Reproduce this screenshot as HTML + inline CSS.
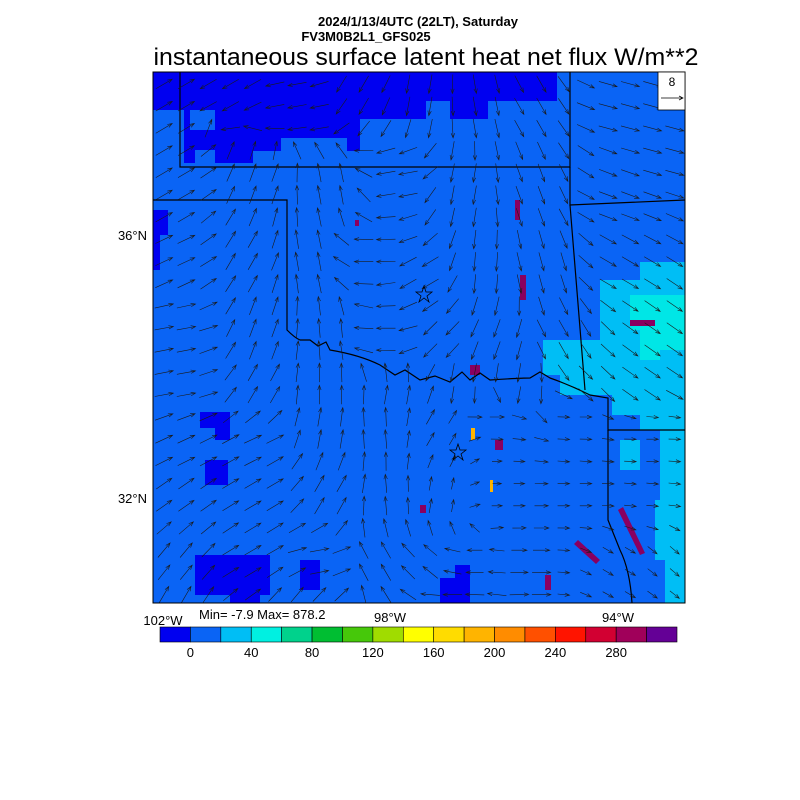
<!DOCTYPE html>
<html><head><meta charset="utf-8"><style>
body{margin:0;background:#fff;width:800px;height:800px;overflow:hidden}
svg{display:block}
text{font-family:"Liberation Sans",sans-serif}
</style></head><body>
<svg id="s" width="800" height="800" xmlns="http://www.w3.org/2000/svg">
<text x="418" y="26" font-size="13" font-weight="bold" text-anchor="middle">2024/1/13/4UTC (22LT), Saturday</text>
<text x="366" y="41" font-size="13" font-weight="bold" text-anchor="middle">FV3M0B2L1_GFS025</text>
<text x="426" y="65" font-size="24.5" text-anchor="middle" textLength="545" lengthAdjust="spacingAndGlyphs">instantaneous surface latent heat net flux W/m**2</text>
<clipPath id="c"><rect x="153" y="72" width="532" height="531"/></clipPath>
<g clip-path="url(#c)">
<rect x="153" y="72" width="532" height="531" fill="#0a64f5"/>
<path d="M153,72 H557 V101 H488 V119 H450 V101 H426 V119 H360 V151 H347 V138 H281 V151 H253 V163 H184 V110 H153Z" fill="#0000f0"/>
<path d="M190,110 H215 V130 H190Z M195,150 H215 V165 H195Z" fill="#0a64f5"/>
<path d="M153,210 H168 V235 H160 V270 H153Z M200,412 H230 V440 H215 V428 H200Z M205,460 H228 V485 H205Z M195,555 H270 V595 H195Z M230,590 H260 V603 H230Z M300,560 H320 V590 H300Z M440,578 H470 V603 H440Z M455,565 H470 V585 H455Z" fill="#0000f0"/>
<path d="M543,340 H600 V280 H640 V262 H685 V440 H660 V430 H640 V415 H612 V395 H560 V375 H543Z" fill="#00bef5"/>
<path d="M630,295 H685 V350 H660 V360 H640 V330 H630Z" fill="#00e6e6"/>
<path d="M660,440 H685 V603 H665 V560 H655 V500 H660Z M620,440 H640 V470 H620Z" fill="#00bef5"/>
<g fill="#8a0060">
<path d="M618,510 L640,555 L645,553 L623,507Z M578,540 L600,560 L596,564 L574,544Z M520,275 h6 v25 h-6Z M355,220 h4 v6 h-4Z M515,200 h5 v20 h-5Z M470,365 h10 v10 h-10Z M545,575 h6 v15 h-6Z M630,320 h25 v6 h-25Z M495,440 h8 v10 h-8Z M420,505 h6 v8 h-6Z"/>
</g>
<g fill="#ffb400"><path d="M471,428 h4 v12 h-4Z M490,480 h3 v12 h-3Z"/></g>
<g fill="none" stroke="#000" stroke-width="1.2">
<path d="M180,72 V167 H570 V72"/>
<path d="M570,167 V205 L685,200"/>
<path d="M153,200 H287 V330 Q295,338 300,340 L310,340 318,346 326,342 330,350 Q360,355 380,365 L395,375 405,370 420,380 435,376 450,382 462,372 470,380 480,373 490,380 Q520,378 530,378 L540,372 550,378 Q570,385 590,395 L608,398 V430 H685"/>
<path d="M570,205 L585,390"/>
<path d="M608,430 V520 L620,550 Q630,570 632,603"/>
</g>
<g id="arr" stroke="#1a1a1a" stroke-width="0.6" fill="none"></g>
</g>
<rect x="153" y="72" width="532" height="531" fill="none" stroke="#000" stroke-width="1"/>
<rect x="658" y="72" width="27" height="38" fill="#fff" stroke="#000" stroke-width="0.8"/>
<text x="672" y="86" font-size="12" text-anchor="middle">8</text>
<path d="M661,98 H683 M679,96 L683,98 L679,100" stroke="#000" stroke-width="0.7" fill="none"/>
<polygon points="424,286 426,292 432,292 427,296 429,302 424,298 419,302 421,296 416,292 422,292" fill="none" stroke="#000" stroke-width="0.8"/>
<polygon points="458,444 460,450 466,450 461,454 463,460 458,456 453,460 455,454 450,450 456,450" fill="none" stroke="#000" stroke-width="0.8"/>
<text x="147" y="240" font-size="13" text-anchor="end">36°N</text>
<text x="147" y="503" font-size="13" text-anchor="end">32°N</text>
<text x="163" y="625" font-size="13" text-anchor="middle">102°W</text>
<text x="390" y="622" font-size="13" text-anchor="middle">98°W</text>
<text x="618" y="622" font-size="13" text-anchor="middle">94°W</text>
<text x="199" y="619" font-size="13">Min= -7.9 Max= 878.2</text>
<g id="cb"></g>
</svg>
<script>
var cols=["#0000f0","#0a64f5","#00bef5","#00f0e1","#00d28c","#00be32","#46c80a","#a0dc00","#ffff00","#ffdc00","#ffb400","#ff8c00","#ff5000","#ff1400","#d20032","#a0005a","#640096"];
var cb=document.getElementById("cb"),h="";
var x0=160,w=(677-160)/17;
for(var i=0;i<17;i++){h+='<rect x="'+(x0+i*w)+'" y="627" width="'+w+'" height="15" fill="'+cols[i]+'" stroke="#000" stroke-width="0.6"/>';}
for(var i=0;i<8;i++){h+='<text x="'+(x0+w*(1+2*i))+'" y="657" font-size="13" text-anchor="middle">'+(i*40)+'</text>';}
cb.innerHTML=h;
var P=[[170,90,-30],[230,85,150],[300,100,170],[360,90,120],[420,100,100],[480,110,80],[530,110,60],[620,110,15],[660,150,15],
[180,180,-30],[260,180,-70],[330,190,-100],[400,180,170],[460,190,100],[530,190,70],[620,200,20],
[180,260,-25],[250,260,-60],[310,260,-100],[370,260,180],[420,280,150],[480,270,95],[540,270,75],[620,270,30],[660,330,35],
[180,330,-10],[260,330,-70],[330,330,-95],[380,330,180],[440,340,135],[500,340,110],[560,340,60],[640,380,35],
[180,390,-10],[260,390,-60],[320,390,-90],[400,400,-80],[460,380,100],[520,390,100],[600,390,45],
[180,440,-25],[260,440,-25],[320,430,-80],[380,430,-95],[440,430,-60],[500,420,0],[580,420,0],[650,440,0],
[180,500,-35],[260,490,-30],[330,490,-60],[390,500,-95],[440,500,-80],[500,500,0],[580,500,0],[650,500,5],
[180,560,-50],[250,560,-30],[320,560,-10],[380,560,-120],[430,560,-140],[470,560,180],[530,560,0],[620,560,30],[670,560,40],
[180,600,-60],[300,600,-50],[450,600,180]];
var a="";
for(var y=84;y<603;y+=22.2){for(var x=164;x<685;x+=22.2){
var su=0,sv=0;
for(var k=0;k<P.length;k++){var d=(P[k][0]-x)*(P[k][0]-x)+(P[k][1]-y)*(P[k][1]-y)+1;var wt=1/(d*d);var r0=P[k][2]*Math.PI/180;su+=wt*Math.cos(r0);sv+=wt*Math.sin(r0);}
var r=Math.atan2(sv,su);
var L=19;
var dc=Math.sqrt((x-490)*(x-490)+(y-480)*(y-480));
if(dc<110)L=8+11*dc/110;
if(x>560&&y>400)L=Math.min(L,12);
var dx=Math.cos(r)*L,dy=Math.sin(r)*L;
var x1=x-dx/2,y1=y-dy/2,x2=x+dx/2,y2=y+dy/2;
var a1=r+Math.PI-0.35,a2=r+Math.PI+0.35;
a+='<path d="M'+x1.toFixed(1)+','+y1.toFixed(1)+'L'+x2.toFixed(1)+','+y2.toFixed(1)+'M'+(x2+5*Math.cos(a1)).toFixed(1)+','+(y2+5*Math.sin(a1)).toFixed(1)+'L'+x2.toFixed(1)+','+y2.toFixed(1)+'L'+(x2+5*Math.cos(a2)).toFixed(1)+','+(y2+5*Math.sin(a2)).toFixed(1)+'"/>';
}}
document.getElementById("arr").innerHTML=a;
</script>
</body></html>
